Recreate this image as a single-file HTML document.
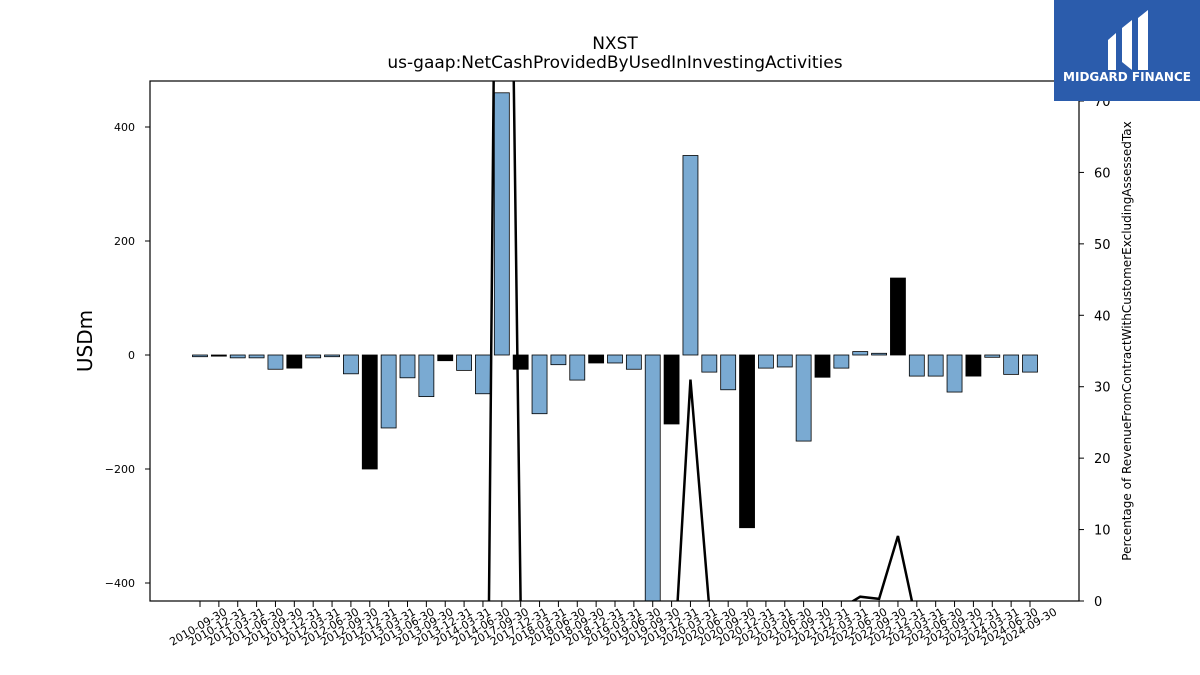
<!DOCTYPE html>
<html><head><meta charset="utf-8"><style>
html,body{margin:0;padding:0;background:#fff;overflow:hidden;width:1200px;height:675px;font-family:"Liberation Sans","DejaVu Sans",sans-serif}
svg{display:block}
</style></head><body>
<svg id="chart" width="1200" height="675" xmlns="http://www.w3.org/2000/svg" font-family="DejaVu Sans, Liberation Sans, sans-serif">
<rect width="1200" height="675" fill="#fff"/>
<text x="615" y="49" font-size="17" text-anchor="middle">NXST</text>
<text x="615" y="68" font-size="17" text-anchor="middle">us-gaap:NetCashProvidedByUsedInInvestingActivities</text>
<defs><clipPath id="plotclip"><rect x="150" y="81" width="929" height="520"/></clipPath></defs>
<g id="bars" clip-path="url(#plotclip)"></g>
<g id="line" clip-path="url(#plotclip)"></g>
<rect x="150" y="81" width="929" height="520" fill="none" stroke="#000" stroke-width="1.2"/>
<g id="axes"></g>
<text transform="translate(92,341) rotate(-90)" font-size="20" text-anchor="middle">USDm</text>
<text transform="translate(1131,341) rotate(-90)" font-size="12" text-anchor="middle">Percentage of RevenueFromContractWithCustomerExcludingAssessedTax</text>
<g>
<rect x="1054" y="0" width="146" height="101" fill="#2b5cac"/>
<path d="M1108 40 L1116 33 L1116 70 L1108 70 Z M1122 28 L1132 20 L1132 70 L1122 62 Z M1138 18 L1148 10 L1148 70 L1138 70 Z" fill="#fff"/>
<text x="1127" y="81" font-size="12" font-weight="bold" fill="#fff" text-anchor="middle">MIDGARD FINANCE</text>
</g>
</svg>
<script>
const labels=["2010-09-30","2010-12-31","2011-03-31","2011-06-30","2011-09-30","2011-12-31","2012-03-31","2012-06-30","2012-09-30","2012-12-31","2013-03-31","2013-06-30","2013-09-30","2013-12-31","2014-03-31","2014-06-30","2017-09-30","2017-12-31","2018-03-31","2018-06-30","2018-09-30","2018-12-31","2019-03-31","2019-06-30","2019-09-30","2019-12-31","2020-03-31","2020-06-30","2020-09-30","2020-12-31","2021-03-31","2021-06-30","2021-09-30","2021-12-31","2022-03-31","2022-06-30","2022-09-30","2022-12-31","2023-03-31","2023-06-30","2023-09-30","2023-12-31","2024-03-31","2024-06-30","2024-09-30"];
const values=[-3,-2,-5,-5,-25,-23,-5,-3,-33,-200,-128,-40,-73,-10,-27,-68,460,-25,-103,-17,-44,-14,-14,-25,-480,-121,350,-30,-61,-303,-23,-21,-151,-39,-23,6,3,135,-37,-37,-65,-37,-4,-34,-30];
const darkFlags=[0,1,0,0,0,1,0,0,0,1,0,0,0,1,0,0,0,1,0,0,0,1,0,0,0,1,0,0,0,1,0,0,0,1,0,0,0,1,0,0,0,1,0,0,0];
const pct=[-1,-1,-1,-1,-1,-1,-1,-1,-1,-1,-1,-1,-1,-1,-1,-94,200,-1,-1,-1,-1,-1,-1,-1,-1,-14.6,31,-1,-1,-1,-1,-1,-1,-1,-1,0.6,0.3,9.1,-3.2,-1,-1,-1,-1,-1,-1];
const leftTicks=[400,200,0,-200,-400];
const rightTicks=[0,10,20,30,40,50,60,70];
const NS="http://www.w3.org/2000/svg";
const X=i=>200+i*(1030-200)/44;
const Y=v=>355-v*0.57;
const Y2=v=>601-v*500/70;
const bw=15;
function mk(tag,attrs,parent,txt){const e=document.createElementNS(NS,tag);for(const k in attrs)e.setAttribute(k,attrs[k]);if(txt!==undefined)e.textContent=txt;parent.appendChild(e);return e;}
const gb=document.getElementById('bars');
values.forEach((v,i)=>{
 const y0=Math.min(Y(0),Y(v)),h=Math.abs(Y(v)-Y(0));
 const r=mk('rect',{x:X(i)-bw/2,y:y0,width:bw,height:Math.max(h,1),fill:darkFlags[i]?'#000':'#7aaad2',stroke:'#000','stroke-width':0.8},gb);
 
 
});
const gl=document.getElementById('line');
const pl=mk('polyline',{points:pct.map((v,i)=>X(i)+','+Y2(v)).join(' '),fill:'none',stroke:'#000','stroke-width':2.5},gl);


const ga=document.getElementById('axes');
leftTicks.forEach(t=>{
 mk('line',{x1:145,x2:150,y1:Y(t),y2:Y(t),stroke:'#000'},ga);
 const tx=mk('text',{x:135,y:Y(t)+4,'font-size':11,'text-anchor':'end'},ga,t<0?'\u2212'+(-t):String(t));
 
 
});
rightTicks.forEach(t=>{
 mk('line',{x1:1079,x2:1084,y1:Y2(t),y2:Y2(t),stroke:'#000'},ga);
 const tx=mk('text',{x:1094,y:Y2(t)+5,'font-size':13},ga,String(t));
 
 
});
labels.forEach((l,i)=>{
 mk('line',{x1:X(i),x2:X(i),y1:601,y2:607,stroke:'#000'},ga);
 const tx=mk('text',{transform:`translate(${X(i)},${630}) rotate(-30)`,'font-size':11,'text-anchor':'middle'},ga,l);
 
 
});
</script>
</body></html>
